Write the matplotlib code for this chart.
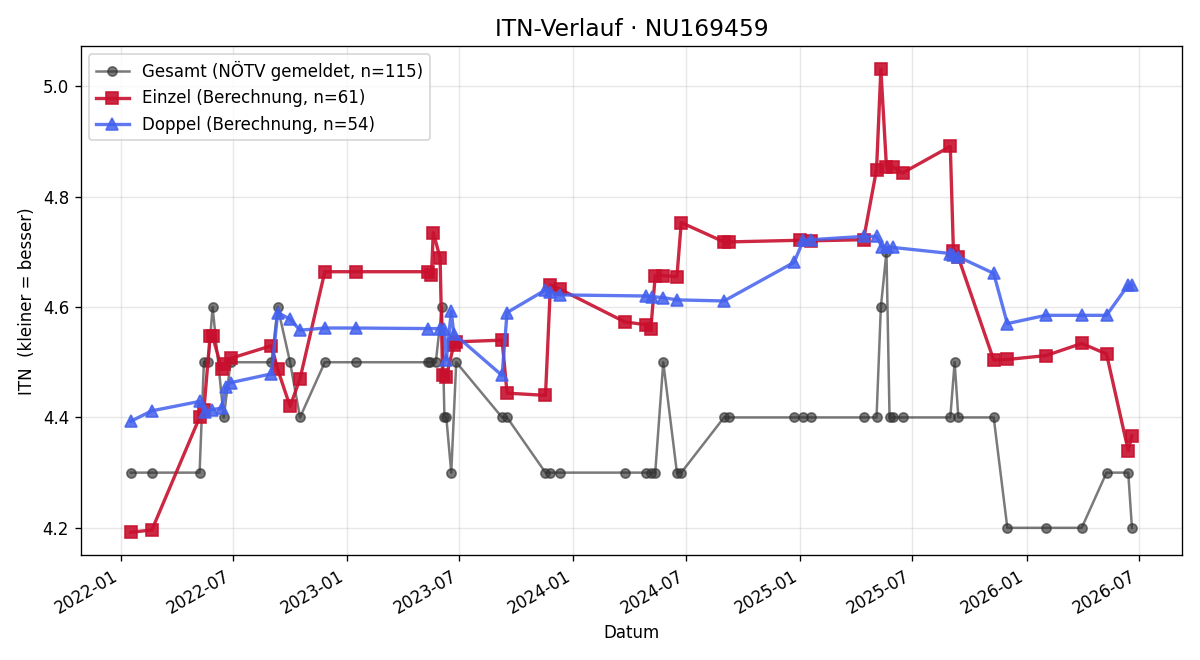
import matplotlib
matplotlib.use("Agg")
import matplotlib.pyplot as plt
import matplotlib.dates as mdates
import pandas as pd

title = "ITN-Verlauf · NU169459"

gesamt_dates = [
    "2022-01-17", "2022-02-20", "2022-05-08", "2022-05-15", "2022-05-22", "2022-05-29",
    "2022-06-16", "2022-06-27", "2022-09-01", "2022-09-11", "2022-10-01", "2022-10-17",
    "2022-11-26", "2023-01-15", "2023-05-11", "2023-05-14", "2023-05-24", "2023-06-03",
    "2023-06-07", "2023-06-10", "2023-06-18", "2023-06-26", "2023-09-08", "2023-09-16",
    "2023-11-17", "2023-11-25", "2023-12-11", "2024-03-24", "2024-04-27", "2024-05-05",
    "2024-05-12", "2024-05-25", "2024-06-16", "2024-06-23", "2024-08-31", "2024-09-08",
    "2024-12-22", "2025-01-06", "2025-01-18", "2025-04-13", "2025-05-04", "2025-05-11",
    "2025-05-20", "2025-05-25", "2025-05-30", "2025-06-15", "2025-08-31", "2025-09-07",
    "2025-09-13", "2025-11-09", "2025-12-01", "2026-02-01", "2026-03-31", "2026-05-10",
    "2026-06-14", "2026-06-20",
]
gesamt_itn = [
    4.3, 4.3, 4.3, 4.5, 4.5, 4.6,
    4.4, 4.5, 4.5, 4.6, 4.5, 4.4,
    4.5, 4.5, 4.5, 4.5, 4.5, 4.6,
    4.4, 4.4, 4.3, 4.5, 4.4, 4.4,
    4.3, 4.3, 4.3, 4.3, 4.3, 4.3,
    4.3, 4.5, 4.3, 4.3, 4.4, 4.4,
    4.4, 4.4, 4.4, 4.4, 4.4, 4.6,
    4.7, 4.4, 4.4, 4.4, 4.4, 4.5,
    4.4, 4.4, 4.2, 4.2, 4.2, 4.3,
    4.3, 4.2,
]

einzel_dates = [
    "2022-01-17", "2022-02-20", "2022-05-08", "2022-05-15", "2022-05-25", "2022-05-29",
    "2022-06-13", "2022-06-16", "2022-06-27", "2022-09-01", "2022-09-11", "2022-10-01",
    "2022-10-17", "2022-11-26", "2023-01-15", "2023-05-11", "2023-05-17", "2023-05-20",
    "2023-05-31", "2023-06-04", "2023-06-10", "2023-06-22", "2023-06-26", "2023-09-08",
    "2023-09-16", "2023-11-17", "2023-11-25", "2023-12-11", "2024-03-24", "2024-04-27",
    "2024-05-05", "2024-05-12", "2024-05-25", "2024-06-16", "2024-06-23", "2024-08-31",
    "2024-09-08", "2025-01-01", "2025-01-18", "2025-04-13", "2025-05-04", "2025-05-11",
    "2025-05-20", "2025-05-30", "2025-06-15", "2025-08-31", "2025-09-05", "2025-09-13",
    "2025-11-09", "2025-12-01", "2026-02-01", "2026-03-31", "2026-05-10", "2026-06-14",
    "2026-06-20",
]
einzel_itn = [
    4.192, 4.196, 4.400, 4.414, 4.548, 4.547,
    4.487, 4.497, 4.507, 4.530, 4.487, 4.420,
    4.470, 4.664, 4.664, 4.664, 4.658, 4.735,
    4.689, 4.477, 4.474, 4.531, 4.537, 4.540,
    4.444, 4.440, 4.640, 4.632, 4.573, 4.568,
    4.561, 4.657, 4.657, 4.655, 4.753, 4.718,
    4.718, 4.721, 4.720, 4.722, 4.849, 5.031,
    4.854, 4.854, 4.843, 4.891, 4.702, 4.690,
    4.504, 4.505, 4.512, 4.534, 4.515, 4.340,
    4.367,
]

doppel_dates = [
    "2022-01-17", "2022-02-20", "2022-05-08", "2022-05-16", "2022-05-28", "2022-06-13",
    "2022-06-19", "2022-06-27", "2022-09-01", "2022-09-11", "2022-10-01", "2022-10-17",
    "2022-11-26", "2023-01-15", "2023-05-11", "2023-05-31", "2023-06-07", "2023-06-10",
    "2023-06-18", "2023-06-22", "2023-09-08", "2023-09-16", "2023-11-17", "2023-11-25",
    "2023-12-11", "2024-04-27", "2024-05-06", "2024-05-25", "2024-06-16", "2024-08-31",
    "2024-12-22", "2025-01-06", "2025-01-18", "2025-04-13", "2025-05-04", "2025-05-13",
    "2025-05-21", "2025-05-30", "2025-08-31", "2025-09-05", "2025-09-13", "2025-11-09",
    "2025-12-01", "2026-02-01", "2026-03-31", "2026-05-10", "2026-06-14", "2026-06-20",
]
doppel_itn = [
    4.393, 4.412, 4.429, 4.410, 4.414, 4.417,
    4.455, 4.463, 4.479, 4.590, 4.578, 4.558,
    4.562, 4.562, 4.561, 4.561, 4.561, 4.504,
    4.592, 4.552, 4.476, 4.590, 4.631, 4.628,
    4.622, 4.620, 4.619, 4.617, 4.613, 4.611,
    4.681, 4.721, 4.722, 4.728, 4.728, 4.708,
    4.708, 4.708, 4.697, 4.694, 4.691, 4.661,
    4.570, 4.585, 4.585, 4.585, 4.640, 4.640,
]

fig, ax = plt.subplots(figsize=(10, 5.5), dpi=120)

ax.plot(pd.to_datetime(gesamt_dates), gesamt_itn, "-o", color="#333333", alpha=0.65,
        lw=1.5, ms=5.5, label="Gesamt (NÖTV gemeldet, n=115)")
ax.plot(pd.to_datetime(einzel_dates), einzel_itn, "-s", color="#c8102e", alpha=0.9,
        lw=2, ms=7, label="Einzel (Berechnung, n=61)")
ax.plot(pd.to_datetime(doppel_dates), doppel_itn, "-^", color="#4361ee", alpha=0.85,
        lw=2, ms=7, label="Doppel (Berechnung, n=54)")

ax.set_title(title, fontsize=14)
ax.set_xlabel("Datum")
ax.set_ylabel("ITN  (kleiner = besser)")
ax.grid(True, alpha=0.3)
ax.legend(loc="upper left")
ax.xaxis.set_major_locator(mdates.MonthLocator(bymonth=[1, 7]))
ax.xaxis.set_major_formatter(mdates.DateFormatter("%Y-%m"))
fig.autofmt_xdate()

fig.tight_layout()
fig.savefig("out.png")
